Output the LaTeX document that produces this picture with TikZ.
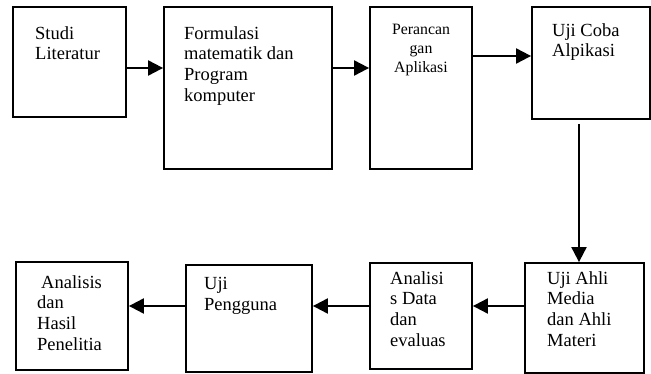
\documentclass[tikz,border=0pt]{standalone}
\usepackage{fontspec}
\setmainfont{Liberation Serif}
\usetikzlibrary{arrows.meta}

\begin{document}
\begin{tikzpicture}[x=1pt,y=-1pt,
  box/.style={draw=black,line width=1.8pt,rectangle,inner sep=0pt},
  txt/.style={anchor=north west,inner sep=0pt,align=left,font=\fontsize{18.5}{20.7}\selectfont},
  arr/.style={line width=2pt,-{Triangle[length=15pt,width=15pt]}}]
\useasboundingbox (0,0) rectangle (651,374);

\node[box,minimum width=113,minimum height=110] (studi) at (69.5,62) {};
\node[txt] (tstudi) at (35,26) {Studi\\Literatur};

\node[box,minimum width=168,minimum height=162] (formulasi) at (248,88) {};
\node[txt] (tformulasi) at (184,26) {Formulasi\\matematik dan\\Program\\komputer};

\node[box,minimum width=102,minimum height=162] (rancang) at (421,88) {};
\node[txt,anchor=north,align=center,font=\fontsize{15.8}{18.8}\selectfont] (trancang) at (421,24) {Perancan\\gan\\Aplikasi};

\node[box,minimum width=118,minimum height=112] (ujicoba) at (591,63) {};
\node[txt] (tujicoba) at (552,23) {Uji Coba\\Alpikasi};

\node[box,minimum width=119,minimum height=110] (ahli) at (584.5,318) {};
\node[txt] (tahli) at (547,271) {Uji Ahli\\Media\\dan Ahli\\Materi};

\node[box,minimum width=102,minimum height=106] (evaluasi) at (421,316) {};
\node[txt] (tevaluasi) at (390,271) {Analisi\\s Data\\dan\\evaluas};

\node[box,minimum width=126,minimum height=107] (pengguna) at (249,318.5) {};
\node[txt] (tpengguna) at (204,277) {Uji\\Pengguna};

\node[box,minimum width=112,minimum height=108] (hasil) at (72,316) {};
\node[txt] (thasil) at (37,275) {\hspace*{4pt}Analisis\\dan\\Hasil\\Penelitia};

\draw[arr] ([yshift=-6pt]studi.east) coordinate (a1) -- (a1 -| formulasi.west);
\draw[arr] ([yshift=20pt]formulasi.east) coordinate (a2) -- (a2 -| rancang.west);
\draw[arr] ([yshift=32pt]rancang.east) coordinate (a3) -- (a3 -| ujicoba.west);
\draw[arr] ([shift={(-12pt,-4pt)}]ujicoba.south) coordinate (a4) -- (a4 |- ahli.north);
\draw[arr] ([yshift=12pt]ahli.west) coordinate (a5) -- (a5 -| evaluasi.east);
\draw[arr] ([yshift=10pt]evaluasi.west) coordinate (a6) -- (a6 -| pengguna.east);
\draw[arr] ([yshift=12.5pt]pengguna.west) coordinate (a7) -- (a7 -| hasil.east);

\end{tikzpicture}
\end{document}
